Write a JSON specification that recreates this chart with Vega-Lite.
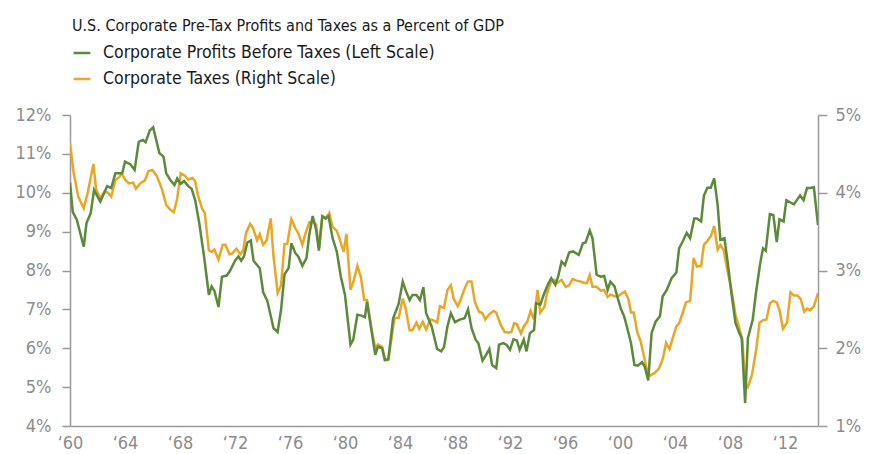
{
  "$schema": "https://vega.github.io/schema/vega-lite/v6.json",
  "width": 748,
  "height": 311,
  "autosize": {"type": "none"},
  "padding": {"left": 70, "top": 115, "right": 59, "bottom": 28},
  "background": "white",
  "config": {
    "view": {"stroke": null},
    "font": "Liberation Sans Narrow, DejaVu Sans Condensed, sans-serif"
  },
  "datasets": {
    "profits": [
      {"series": "Corporate Profits Before Taxes (Left Scale)", "year": 1960.0, "value": 10.26},
      {"series": "Corporate Profits Before Taxes (Left Scale)", "year": 1960.2, "value": 9.51},
      {"series": "Corporate Profits Before Taxes (Left Scale)", "year": 1960.5, "value": 9.30},
      {"series": "Corporate Profits Before Taxes (Left Scale)", "year": 1961.0, "value": 8.61},
      {"series": "Corporate Profits Before Taxes (Left Scale)", "year": 1961.2, "value": 9.22},
      {"series": "Corporate Profits Before Taxes (Left Scale)", "year": 1961.5, "value": 9.47},
      {"series": "Corporate Profits Before Taxes (Left Scale)", "year": 1961.75, "value": 10.07},
      {"series": "Corporate Profits Before Taxes (Left Scale)", "year": 1962.2, "value": 9.77},
      {"series": "Corporate Profits Before Taxes (Left Scale)", "year": 1962.7, "value": 10.17},
      {"series": "Corporate Profits Before Taxes (Left Scale)", "year": 1963.0, "value": 10.12},
      {"series": "Corporate Profits Before Taxes (Left Scale)", "year": 1963.3, "value": 10.50},
      {"series": "Corporate Profits Before Taxes (Left Scale)", "year": 1963.8, "value": 10.50},
      {"series": "Corporate Profits Before Taxes (Left Scale)", "year": 1964.0, "value": 10.80},
      {"series": "Corporate Profits Before Taxes (Left Scale)", "year": 1964.4, "value": 10.73},
      {"series": "Corporate Profits Before Taxes (Left Scale)", "year": 1964.7, "value": 10.59},
      {"series": "Corporate Profits Before Taxes (Left Scale)", "year": 1965.0, "value": 11.31},
      {"series": "Corporate Profits Before Taxes (Left Scale)", "year": 1965.3, "value": 11.36},
      {"series": "Corporate Profits Before Taxes (Left Scale)", "year": 1965.5, "value": 11.30},
      {"series": "Corporate Profits Before Taxes (Left Scale)", "year": 1965.8, "value": 11.60},
      {"series": "Corporate Profits Before Taxes (Left Scale)", "year": 1966.05, "value": 11.68},
      {"series": "Corporate Profits Before Taxes (Left Scale)", "year": 1966.5, "value": 11.02},
      {"series": "Corporate Profits Before Taxes (Left Scale)", "year": 1966.8, "value": 10.93},
      {"series": "Corporate Profits Before Taxes (Left Scale)", "year": 1967.0, "value": 10.50},
      {"series": "Corporate Profits Before Taxes (Left Scale)", "year": 1967.3, "value": 10.33},
      {"series": "Corporate Profits Before Taxes (Left Scale)", "year": 1967.6, "value": 10.20},
      {"series": "Corporate Profits Before Taxes (Left Scale)", "year": 1967.8, "value": 10.37},
      {"series": "Corporate Profits Before Taxes (Left Scale)", "year": 1968.05, "value": 10.23},
      {"series": "Corporate Profits Before Taxes (Left Scale)", "year": 1968.3, "value": 10.30},
      {"series": "Corporate Profits Before Taxes (Left Scale)", "year": 1968.6, "value": 10.17},
      {"series": "Corporate Profits Before Taxes (Left Scale)", "year": 1968.85, "value": 10.10},
      {"series": "Corporate Profits Before Taxes (Left Scale)", "year": 1969.1, "value": 9.81},
      {"series": "Corporate Profits Before Taxes (Left Scale)", "year": 1969.4, "value": 9.22},
      {"series": "Corporate Profits Before Taxes (Left Scale)", "year": 1969.75, "value": 8.36},
      {"series": "Corporate Profits Before Taxes (Left Scale)", "year": 1970.1, "value": 7.37},
      {"series": "Corporate Profits Before Taxes (Left Scale)", "year": 1970.3, "value": 7.59},
      {"series": "Corporate Profits Before Taxes (Left Scale)", "year": 1970.5, "value": 7.48},
      {"series": "Corporate Profits Before Taxes (Left Scale)", "year": 1970.8, "value": 7.06},
      {"series": "Corporate Profits Before Taxes (Left Scale)", "year": 1971.05, "value": 7.84},
      {"series": "Corporate Profits Before Taxes (Left Scale)", "year": 1971.4, "value": 7.87},
      {"series": "Corporate Profits Before Taxes (Left Scale)", "year": 1971.65, "value": 8.0},
      {"series": "Corporate Profits Before Taxes (Left Scale)", "year": 1972.0, "value": 8.25},
      {"series": "Corporate Profits Before Taxes (Left Scale)", "year": 1972.25, "value": 8.36},
      {"series": "Corporate Profits Before Taxes (Left Scale)", "year": 1972.45, "value": 8.25},
      {"series": "Corporate Profits Before Taxes (Left Scale)", "year": 1972.65, "value": 8.36},
      {"series": "Corporate Profits Before Taxes (Left Scale)", "year": 1972.9, "value": 8.72},
      {"series": "Corporate Profits Before Taxes (Left Scale)", "year": 1973.15, "value": 8.77},
      {"series": "Corporate Profits Before Taxes (Left Scale)", "year": 1973.35, "value": 8.25},
      {"series": "Corporate Profits Before Taxes (Left Scale)", "year": 1973.8, "value": 8.06},
      {"series": "Corporate Profits Before Taxes (Left Scale)", "year": 1974.05, "value": 7.44},
      {"series": "Corporate Profits Before Taxes (Left Scale)", "year": 1974.35, "value": 7.22},
      {"series": "Corporate Profits Before Taxes (Left Scale)", "year": 1974.8, "value": 6.52},
      {"series": "Corporate Profits Before Taxes (Left Scale)", "year": 1975.1, "value": 6.42},
      {"series": "Corporate Profits Before Taxes (Left Scale)", "year": 1975.35, "value": 6.99},
      {"series": "Corporate Profits Before Taxes (Left Scale)", "year": 1975.6, "value": 7.90},
      {"series": "Corporate Profits Before Taxes (Left Scale)", "year": 1975.9, "value": 8.06},
      {"series": "Corporate Profits Before Taxes (Left Scale)", "year": 1976.1, "value": 8.70},
      {"series": "Corporate Profits Before Taxes (Left Scale)", "year": 1976.4, "value": 8.44},
      {"series": "Corporate Profits Before Taxes (Left Scale)", "year": 1976.6, "value": 8.36},
      {"series": "Corporate Profits Before Taxes (Left Scale)", "year": 1976.9, "value": 8.12},
      {"series": "Corporate Profits Before Taxes (Left Scale)", "year": 1977.2, "value": 8.32},
      {"series": "Corporate Profits Before Taxes (Left Scale)", "year": 1977.4, "value": 8.92},
      {"series": "Corporate Profits Before Taxes (Left Scale)", "year": 1977.65, "value": 9.40},
      {"series": "Corporate Profits Before Taxes (Left Scale)", "year": 1977.9, "value": 9.04},
      {"series": "Corporate Profits Before Taxes (Left Scale)", "year": 1978.1, "value": 8.51},
      {"series": "Corporate Profits Before Taxes (Left Scale)", "year": 1978.35, "value": 9.39},
      {"series": "Corporate Profits Before Taxes (Left Scale)", "year": 1978.6, "value": 9.34},
      {"series": "Corporate Profits Before Taxes (Left Scale)", "year": 1978.8, "value": 9.40},
      {"series": "Corporate Profits Before Taxes (Left Scale)", "year": 1979.1, "value": 8.83},
      {"series": "Corporate Profits Before Taxes (Left Scale)", "year": 1979.4, "value": 8.49},
      {"series": "Corporate Profits Before Taxes (Left Scale)", "year": 1979.7, "value": 7.84},
      {"series": "Corporate Profits Before Taxes (Left Scale)", "year": 1980.0, "value": 7.37},
      {"series": "Corporate Profits Before Taxes (Left Scale)", "year": 1980.4, "value": 6.09},
      {"series": "Corporate Profits Before Taxes (Left Scale)", "year": 1980.6, "value": 6.22},
      {"series": "Corporate Profits Before Taxes (Left Scale)", "year": 1980.9, "value": 6.86},
      {"series": "Corporate Profits Before Taxes (Left Scale)", "year": 1981.2, "value": 6.84},
      {"series": "Corporate Profits Before Taxes (Left Scale)", "year": 1981.45, "value": 6.80},
      {"series": "Corporate Profits Before Taxes (Left Scale)", "year": 1981.6, "value": 7.20},
      {"series": "Corporate Profits Before Taxes (Left Scale)", "year": 1982.2, "value": 5.83},
      {"series": "Corporate Profits Before Taxes (Left Scale)", "year": 1982.4, "value": 6.04},
      {"series": "Corporate Profits Before Taxes (Left Scale)", "year": 1982.7, "value": 6.00},
      {"series": "Corporate Profits Before Taxes (Left Scale)", "year": 1982.9, "value": 5.70},
      {"series": "Corporate Profits Before Taxes (Left Scale)", "year": 1983.15, "value": 5.72},
      {"series": "Corporate Profits Before Taxes (Left Scale)", "year": 1983.5, "value": 6.77},
      {"series": "Corporate Profits Before Taxes (Left Scale)", "year": 1983.9, "value": 7.14},
      {"series": "Corporate Profits Before Taxes (Left Scale)", "year": 1984.2, "value": 7.71},
      {"series": "Corporate Profits Before Taxes (Left Scale)", "year": 1984.4, "value": 7.50},
      {"series": "Corporate Profits Before Taxes (Left Scale)", "year": 1984.7, "value": 7.24},
      {"series": "Corporate Profits Before Taxes (Left Scale)", "year": 1984.9, "value": 7.37},
      {"series": "Corporate Profits Before Taxes (Left Scale)", "year": 1985.2, "value": 7.37},
      {"series": "Corporate Profits Before Taxes (Left Scale)", "year": 1985.45, "value": 7.24},
      {"series": "Corporate Profits Before Taxes (Left Scale)", "year": 1985.7, "value": 7.57},
      {"series": "Corporate Profits Before Taxes (Left Scale)", "year": 1985.9, "value": 6.90},
      {"series": "Corporate Profits Before Taxes (Left Scale)", "year": 1986.3, "value": 6.56},
      {"series": "Corporate Profits Before Taxes (Left Scale)", "year": 1986.7, "value": 5.98},
      {"series": "Corporate Profits Before Taxes (Left Scale)", "year": 1987.0, "value": 5.92},
      {"series": "Corporate Profits Before Taxes (Left Scale)", "year": 1987.2, "value": 6.03},
      {"series": "Corporate Profits Before Taxes (Left Scale)", "year": 1987.45, "value": 6.56},
      {"series": "Corporate Profits Before Taxes (Left Scale)", "year": 1987.7, "value": 6.90},
      {"series": "Corporate Profits Before Taxes (Left Scale)", "year": 1988.0, "value": 6.67},
      {"series": "Corporate Profits Before Taxes (Left Scale)", "year": 1988.3, "value": 6.73},
      {"series": "Corporate Profits Before Taxes (Left Scale)", "year": 1988.7, "value": 6.77},
      {"series": "Corporate Profits Before Taxes (Left Scale)", "year": 1988.95, "value": 7.00},
      {"series": "Corporate Profits Before Taxes (Left Scale)", "year": 1989.2, "value": 6.52},
      {"series": "Corporate Profits Before Taxes (Left Scale)", "year": 1989.5, "value": 6.22},
      {"series": "Corporate Profits Before Taxes (Left Scale)", "year": 1989.7, "value": 6.13},
      {"series": "Corporate Profits Before Taxes (Left Scale)", "year": 1990.0, "value": 5.68},
      {"series": "Corporate Profits Before Taxes (Left Scale)", "year": 1990.2, "value": 5.79},
      {"series": "Corporate Profits Before Taxes (Left Scale)", "year": 1990.5, "value": 5.98},
      {"series": "Corporate Profits Before Taxes (Left Scale)", "year": 1990.7, "value": 5.57},
      {"series": "Corporate Profits Before Taxes (Left Scale)", "year": 1991.0, "value": 5.49},
      {"series": "Corporate Profits Before Taxes (Left Scale)", "year": 1991.2, "value": 6.09},
      {"series": "Corporate Profits Before Taxes (Left Scale)", "year": 1991.5, "value": 6.13},
      {"series": "Corporate Profits Before Taxes (Left Scale)", "year": 1991.75, "value": 6.09},
      {"series": "Corporate Profits Before Taxes (Left Scale)", "year": 1992.0, "value": 5.96},
      {"series": "Corporate Profits Before Taxes (Left Scale)", "year": 1992.25, "value": 6.23},
      {"series": "Corporate Profits Before Taxes (Left Scale)", "year": 1992.5, "value": 6.20},
      {"series": "Corporate Profits Before Taxes (Left Scale)", "year": 1992.7, "value": 5.96},
      {"series": "Corporate Profits Before Taxes (Left Scale)", "year": 1993.0, "value": 6.22},
      {"series": "Corporate Profits Before Taxes (Left Scale)", "year": 1993.2, "value": 5.92},
      {"series": "Corporate Profits Before Taxes (Left Scale)", "year": 1993.45, "value": 6.39},
      {"series": "Corporate Profits Before Taxes (Left Scale)", "year": 1993.75, "value": 6.47},
      {"series": "Corporate Profits Before Taxes (Left Scale)", "year": 1993.9, "value": 7.16},
      {"series": "Corporate Profits Before Taxes (Left Scale)", "year": 1994.2, "value": 7.12},
      {"series": "Corporate Profits Before Taxes (Left Scale)", "year": 1994.5, "value": 7.42},
      {"series": "Corporate Profits Before Taxes (Left Scale)", "year": 1994.8, "value": 7.67},
      {"series": "Corporate Profits Before Taxes (Left Scale)", "year": 1995.0, "value": 7.80},
      {"series": "Corporate Profits Before Taxes (Left Scale)", "year": 1995.3, "value": 7.63},
      {"series": "Corporate Profits Before Taxes (Left Scale)", "year": 1995.5, "value": 7.84},
      {"series": "Corporate Profits Before Taxes (Left Scale)", "year": 1995.75, "value": 8.23},
      {"series": "Corporate Profits Before Taxes (Left Scale)", "year": 1996.0, "value": 8.14},
      {"series": "Corporate Profits Before Taxes (Left Scale)", "year": 1996.3, "value": 8.46},
      {"series": "Corporate Profits Before Taxes (Left Scale)", "year": 1996.6, "value": 8.49},
      {"series": "Corporate Profits Before Taxes (Left Scale)", "year": 1997.0, "value": 8.40},
      {"series": "Corporate Profits Before Taxes (Left Scale)", "year": 1997.3, "value": 8.70},
      {"series": "Corporate Profits Before Taxes (Left Scale)", "year": 1997.5, "value": 8.72},
      {"series": "Corporate Profits Before Taxes (Left Scale)", "year": 1997.8, "value": 9.03},
      {"series": "Corporate Profits Before Taxes (Left Scale)", "year": 1998.0, "value": 8.83},
      {"series": "Corporate Profits Before Taxes (Left Scale)", "year": 1998.3, "value": 7.89},
      {"series": "Corporate Profits Before Taxes (Left Scale)", "year": 1998.6, "value": 7.84},
      {"series": "Corporate Profits Before Taxes (Left Scale)", "year": 1998.85, "value": 7.86},
      {"series": "Corporate Profits Before Taxes (Left Scale)", "year": 1999.1, "value": 7.50},
      {"series": "Corporate Profits Before Taxes (Left Scale)", "year": 1999.3, "value": 7.71},
      {"series": "Corporate Profits Before Taxes (Left Scale)", "year": 1999.6, "value": 7.59},
      {"series": "Corporate Profits Before Taxes (Left Scale)", "year": 1999.8, "value": 7.33},
      {"series": "Corporate Profits Before Taxes (Left Scale)", "year": 2000.05, "value": 7.03},
      {"series": "Corporate Profits Before Taxes (Left Scale)", "year": 2000.3, "value": 6.82},
      {"series": "Corporate Profits Before Taxes (Left Scale)", "year": 2000.5, "value": 6.56},
      {"series": "Corporate Profits Before Taxes (Left Scale)", "year": 2000.8, "value": 6.13},
      {"series": "Corporate Profits Before Taxes (Left Scale)", "year": 2001.05, "value": 5.57},
      {"series": "Corporate Profits Before Taxes (Left Scale)", "year": 2001.3, "value": 5.55},
      {"series": "Corporate Profits Before Taxes (Left Scale)", "year": 2001.6, "value": 5.64},
      {"series": "Corporate Profits Before Taxes (Left Scale)", "year": 2001.8, "value": 5.53},
      {"series": "Corporate Profits Before Taxes (Left Scale)", "year": 2002.05, "value": 5.17},
      {"series": "Corporate Profits Before Taxes (Left Scale)", "year": 2002.3, "value": 6.39},
      {"series": "Corporate Profits Before Taxes (Left Scale)", "year": 2002.6, "value": 6.69},
      {"series": "Corporate Profits Before Taxes (Left Scale)", "year": 2002.9, "value": 6.82},
      {"series": "Corporate Profits Before Taxes (Left Scale)", "year": 2003.1, "value": 7.33},
      {"series": "Corporate Profits Before Taxes (Left Scale)", "year": 2003.4, "value": 7.50},
      {"series": "Corporate Profits Before Taxes (Left Scale)", "year": 2003.75, "value": 7.80},
      {"series": "Corporate Profits Before Taxes (Left Scale)", "year": 2004.1, "value": 7.95},
      {"series": "Corporate Profits Before Taxes (Left Scale)", "year": 2004.3, "value": 8.57},
      {"series": "Corporate Profits Before Taxes (Left Scale)", "year": 2004.55, "value": 8.74},
      {"series": "Corporate Profits Before Taxes (Left Scale)", "year": 2004.85, "value": 8.97},
      {"series": "Corporate Profits Before Taxes (Left Scale)", "year": 2005.1, "value": 8.83},
      {"series": "Corporate Profits Before Taxes (Left Scale)", "year": 2005.4, "value": 9.34},
      {"series": "Corporate Profits Before Taxes (Left Scale)", "year": 2005.6, "value": 9.34},
      {"series": "Corporate Profits Before Taxes (Left Scale)", "year": 2005.9, "value": 9.26},
      {"series": "Corporate Profits Before Taxes (Left Scale)", "year": 2006.1, "value": 9.92},
      {"series": "Corporate Profits Before Taxes (Left Scale)", "year": 2006.35, "value": 10.13},
      {"series": "Corporate Profits Before Taxes (Left Scale)", "year": 2006.6, "value": 10.13},
      {"series": "Corporate Profits Before Taxes (Left Scale)", "year": 2006.85, "value": 10.37},
      {"series": "Corporate Profits Before Taxes (Left Scale)", "year": 2007.1, "value": 9.69},
      {"series": "Corporate Profits Before Taxes (Left Scale)", "year": 2007.3, "value": 8.79},
      {"series": "Corporate Profits Before Taxes (Left Scale)", "year": 2007.6, "value": 8.83},
      {"series": "Corporate Profits Before Taxes (Left Scale)", "year": 2007.9, "value": 8.02},
      {"series": "Corporate Profits Before Taxes (Left Scale)", "year": 2008.1, "value": 7.42},
      {"series": "Corporate Profits Before Taxes (Left Scale)", "year": 2008.4, "value": 6.65},
      {"series": "Corporate Profits Before Taxes (Left Scale)", "year": 2008.7, "value": 6.37},
      {"series": "Corporate Profits Before Taxes (Left Scale)", "year": 2008.85, "value": 6.26},
      {"series": "Corporate Profits Before Taxes (Left Scale)", "year": 2009.1, "value": 4.59},
      {"series": "Corporate Profits Before Taxes (Left Scale)", "year": 2009.3, "value": 6.26},
      {"series": "Corporate Profits Before Taxes (Left Scale)", "year": 2009.65, "value": 6.73},
      {"series": "Corporate Profits Before Taxes (Left Scale)", "year": 2009.9, "value": 7.46},
      {"series": "Corporate Profits Before Taxes (Left Scale)", "year": 2010.2, "value": 8.19},
      {"series": "Corporate Profits Before Taxes (Left Scale)", "year": 2010.4, "value": 8.57},
      {"series": "Corporate Profits Before Taxes (Left Scale)", "year": 2010.6, "value": 8.51},
      {"series": "Corporate Profits Before Taxes (Left Scale)", "year": 2010.9, "value": 9.45},
      {"series": "Corporate Profits Before Taxes (Left Scale)", "year": 2011.15, "value": 9.43},
      {"series": "Corporate Profits Before Taxes (Left Scale)", "year": 2011.4, "value": 8.73},
      {"series": "Corporate Profits Before Taxes (Left Scale)", "year": 2011.6, "value": 9.32},
      {"series": "Corporate Profits Before Taxes (Left Scale)", "year": 2011.9, "value": 9.26},
      {"series": "Corporate Profits Before Taxes (Left Scale)", "year": 2012.1, "value": 9.81},
      {"series": "Corporate Profits Before Taxes (Left Scale)", "year": 2012.4, "value": 9.75},
      {"series": "Corporate Profits Before Taxes (Left Scale)", "year": 2012.65, "value": 9.70},
      {"series": "Corporate Profits Before Taxes (Left Scale)", "year": 2012.9, "value": 9.83},
      {"series": "Corporate Profits Before Taxes (Left Scale)", "year": 2013.1, "value": 9.93},
      {"series": "Corporate Profits Before Taxes (Left Scale)", "year": 2013.35, "value": 9.81},
      {"series": "Corporate Profits Before Taxes (Left Scale)", "year": 2013.6, "value": 10.12},
      {"series": "Corporate Profits Before Taxes (Left Scale)", "year": 2013.85, "value": 10.12},
      {"series": "Corporate Profits Before Taxes (Left Scale)", "year": 2014.1, "value": 10.14},
      {"series": "Corporate Profits Before Taxes (Left Scale)", "year": 2014.4, "value": 9.17}
    ],
    "taxes": [
      {"series": "Corporate Taxes (Right Scale)", "year": 1960.0, "value": 4.64},
      {"series": "Corporate Taxes (Right Scale)", "year": 1960.25, "value": 4.27},
      {"series": "Corporate Taxes (Right Scale)", "year": 1960.6, "value": 3.95},
      {"series": "Corporate Taxes (Right Scale)", "year": 1961.0, "value": 3.80},
      {"series": "Corporate Taxes (Right Scale)", "year": 1961.3, "value": 4.01},
      {"series": "Corporate Taxes (Right Scale)", "year": 1961.7, "value": 4.37},
      {"series": "Corporate Taxes (Right Scale)", "year": 1961.9, "value": 4.04},
      {"series": "Corporate Taxes (Right Scale)", "year": 1962.2, "value": 3.93},
      {"series": "Corporate Taxes (Right Scale)", "year": 1962.5, "value": 4.01},
      {"series": "Corporate Taxes (Right Scale)", "year": 1962.75, "value": 4.00},
      {"series": "Corporate Taxes (Right Scale)", "year": 1963.0, "value": 3.95},
      {"series": "Corporate Taxes (Right Scale)", "year": 1963.3, "value": 4.16},
      {"series": "Corporate Taxes (Right Scale)", "year": 1963.5, "value": 4.19},
      {"series": "Corporate Taxes (Right Scale)", "year": 1963.75, "value": 4.24},
      {"series": "Corporate Taxes (Right Scale)", "year": 1964.05, "value": 4.16},
      {"series": "Corporate Taxes (Right Scale)", "year": 1964.3, "value": 4.12},
      {"series": "Corporate Taxes (Right Scale)", "year": 1964.6, "value": 4.13},
      {"series": "Corporate Taxes (Right Scale)", "year": 1964.8, "value": 4.05},
      {"series": "Corporate Taxes (Right Scale)", "year": 1965.1, "value": 4.12},
      {"series": "Corporate Taxes (Right Scale)", "year": 1965.45, "value": 4.16},
      {"series": "Corporate Taxes (Right Scale)", "year": 1965.7, "value": 4.28},
      {"series": "Corporate Taxes (Right Scale)", "year": 1966.0, "value": 4.29},
      {"series": "Corporate Taxes (Right Scale)", "year": 1966.3, "value": 4.22},
      {"series": "Corporate Taxes (Right Scale)", "year": 1966.7, "value": 4.04},
      {"series": "Corporate Taxes (Right Scale)", "year": 1967.0, "value": 3.84},
      {"series": "Corporate Taxes (Right Scale)", "year": 1967.3, "value": 3.78},
      {"series": "Corporate Taxes (Right Scale)", "year": 1967.55, "value": 3.75},
      {"series": "Corporate Taxes (Right Scale)", "year": 1967.8, "value": 3.93},
      {"series": "Corporate Taxes (Right Scale)", "year": 1968.05, "value": 4.25},
      {"series": "Corporate Taxes (Right Scale)", "year": 1968.35, "value": 4.22},
      {"series": "Corporate Taxes (Right Scale)", "year": 1968.6, "value": 4.17},
      {"series": "Corporate Taxes (Right Scale)", "year": 1968.9, "value": 4.19},
      {"series": "Corporate Taxes (Right Scale)", "year": 1969.1, "value": 4.15},
      {"series": "Corporate Taxes (Right Scale)", "year": 1969.3, "value": 3.97},
      {"series": "Corporate Taxes (Right Scale)", "year": 1969.6, "value": 3.80},
      {"series": "Corporate Taxes (Right Scale)", "year": 1969.8, "value": 3.74},
      {"series": "Corporate Taxes (Right Scale)", "year": 1970.1, "value": 3.26},
      {"series": "Corporate Taxes (Right Scale)", "year": 1970.3, "value": 3.24},
      {"series": "Corporate Taxes (Right Scale)", "year": 1970.5, "value": 3.27},
      {"series": "Corporate Taxes (Right Scale)", "year": 1970.8, "value": 3.14},
      {"series": "Corporate Taxes (Right Scale)", "year": 1971.1, "value": 3.33},
      {"series": "Corporate Taxes (Right Scale)", "year": 1971.3, "value": 3.33},
      {"series": "Corporate Taxes (Right Scale)", "year": 1971.6, "value": 3.21},
      {"series": "Corporate Taxes (Right Scale)", "year": 1971.8, "value": 3.22},
      {"series": "Corporate Taxes (Right Scale)", "year": 1972.1, "value": 3.28},
      {"series": "Corporate Taxes (Right Scale)", "year": 1972.4, "value": 3.21},
      {"series": "Corporate Taxes (Right Scale)", "year": 1972.6, "value": 3.26},
      {"series": "Corporate Taxes (Right Scale)", "year": 1972.8, "value": 3.48},
      {"series": "Corporate Taxes (Right Scale)", "year": 1973.1, "value": 3.60},
      {"series": "Corporate Taxes (Right Scale)", "year": 1973.3, "value": 3.55},
      {"series": "Corporate Taxes (Right Scale)", "year": 1973.6, "value": 3.39},
      {"series": "Corporate Taxes (Right Scale)", "year": 1973.8, "value": 3.47},
      {"series": "Corporate Taxes (Right Scale)", "year": 1974.05, "value": 3.33},
      {"series": "Corporate Taxes (Right Scale)", "year": 1974.3, "value": 3.39},
      {"series": "Corporate Taxes (Right Scale)", "year": 1974.6, "value": 3.67},
      {"series": "Corporate Taxes (Right Scale)", "year": 1974.8, "value": 3.18},
      {"series": "Corporate Taxes (Right Scale)", "year": 1975.1, "value": 2.71},
      {"series": "Corporate Taxes (Right Scale)", "year": 1975.35, "value": 2.81},
      {"series": "Corporate Taxes (Right Scale)", "year": 1975.6, "value": 3.34},
      {"series": "Corporate Taxes (Right Scale)", "year": 1975.8, "value": 3.34},
      {"series": "Corporate Taxes (Right Scale)", "year": 1976.1, "value": 3.66},
      {"series": "Corporate Taxes (Right Scale)", "year": 1976.4, "value": 3.54},
      {"series": "Corporate Taxes (Right Scale)", "year": 1976.6, "value": 3.48},
      {"series": "Corporate Taxes (Right Scale)", "year": 1976.9, "value": 3.33},
      {"series": "Corporate Taxes (Right Scale)", "year": 1977.1, "value": 3.46},
      {"series": "Corporate Taxes (Right Scale)", "year": 1977.4, "value": 3.62},
      {"series": "Corporate Taxes (Right Scale)", "year": 1977.7, "value": 3.62},
      {"series": "Corporate Taxes (Right Scale)", "year": 1977.9, "value": 3.59},
      {"series": "Corporate Taxes (Right Scale)", "year": 1978.1, "value": 3.29},
      {"series": "Corporate Taxes (Right Scale)", "year": 1978.35, "value": 3.70},
      {"series": "Corporate Taxes (Right Scale)", "year": 1978.6, "value": 3.67},
      {"series": "Corporate Taxes (Right Scale)", "year": 1978.85, "value": 3.74},
      {"series": "Corporate Taxes (Right Scale)", "year": 1979.1, "value": 3.56},
      {"series": "Corporate Taxes (Right Scale)", "year": 1979.4, "value": 3.51},
      {"series": "Corporate Taxes (Right Scale)", "year": 1979.6, "value": 3.41},
      {"series": "Corporate Taxes (Right Scale)", "year": 1979.9, "value": 3.24},
      {"series": "Corporate Taxes (Right Scale)", "year": 1980.1, "value": 3.47},
      {"series": "Corporate Taxes (Right Scale)", "year": 1980.4, "value": 2.75},
      {"series": "Corporate Taxes (Right Scale)", "year": 1980.65, "value": 2.88},
      {"series": "Corporate Taxes (Right Scale)", "year": 1980.9, "value": 3.06},
      {"series": "Corporate Taxes (Right Scale)", "year": 1981.15, "value": 2.92},
      {"series": "Corporate Taxes (Right Scale)", "year": 1981.4, "value": 2.62},
      {"series": "Corporate Taxes (Right Scale)", "year": 1981.6, "value": 2.62},
      {"series": "Corporate Taxes (Right Scale)", "year": 1981.9, "value": 2.28},
      {"series": "Corporate Taxes (Right Scale)", "year": 1982.2, "value": 2.00},
      {"series": "Corporate Taxes (Right Scale)", "year": 1982.4, "value": 2.05},
      {"series": "Corporate Taxes (Right Scale)", "year": 1982.7, "value": 2.02},
      {"series": "Corporate Taxes (Right Scale)", "year": 1982.9, "value": 1.85},
      {"series": "Corporate Taxes (Right Scale)", "year": 1983.15, "value": 1.85},
      {"series": "Corporate Taxes (Right Scale)", "year": 1983.4, "value": 2.15},
      {"series": "Corporate Taxes (Right Scale)", "year": 1983.6, "value": 2.39},
      {"series": "Corporate Taxes (Right Scale)", "year": 1983.9, "value": 2.39},
      {"series": "Corporate Taxes (Right Scale)", "year": 1984.2, "value": 2.64},
      {"series": "Corporate Taxes (Right Scale)", "year": 1984.4, "value": 2.52},
      {"series": "Corporate Taxes (Right Scale)", "year": 1984.7, "value": 2.23},
      {"series": "Corporate Taxes (Right Scale)", "year": 1984.9, "value": 2.23},
      {"series": "Corporate Taxes (Right Scale)", "year": 1985.2, "value": 2.33},
      {"series": "Corporate Taxes (Right Scale)", "year": 1985.4, "value": 2.25},
      {"series": "Corporate Taxes (Right Scale)", "year": 1985.65, "value": 2.34},
      {"series": "Corporate Taxes (Right Scale)", "year": 1985.9, "value": 2.24},
      {"series": "Corporate Taxes (Right Scale)", "year": 1986.2, "value": 2.37},
      {"series": "Corporate Taxes (Right Scale)", "year": 1986.4, "value": 2.36},
      {"series": "Corporate Taxes (Right Scale)", "year": 1986.7, "value": 2.33},
      {"series": "Corporate Taxes (Right Scale)", "year": 1986.9, "value": 2.54},
      {"series": "Corporate Taxes (Right Scale)", "year": 1987.2, "value": 2.52},
      {"series": "Corporate Taxes (Right Scale)", "year": 1987.45, "value": 2.75},
      {"series": "Corporate Taxes (Right Scale)", "year": 1987.7, "value": 2.81},
      {"series": "Corporate Taxes (Right Scale)", "year": 1987.9, "value": 2.64},
      {"series": "Corporate Taxes (Right Scale)", "year": 1988.2, "value": 2.54},
      {"series": "Corporate Taxes (Right Scale)", "year": 1988.4, "value": 2.62},
      {"series": "Corporate Taxes (Right Scale)", "year": 1988.7, "value": 2.77},
      {"series": "Corporate Taxes (Right Scale)", "year": 1988.95, "value": 2.86},
      {"series": "Corporate Taxes (Right Scale)", "year": 1989.2, "value": 2.86},
      {"series": "Corporate Taxes (Right Scale)", "year": 1989.45, "value": 2.59},
      {"series": "Corporate Taxes (Right Scale)", "year": 1989.75, "value": 2.47},
      {"series": "Corporate Taxes (Right Scale)", "year": 1990.0, "value": 2.45},
      {"series": "Corporate Taxes (Right Scale)", "year": 1990.2, "value": 2.37},
      {"series": "Corporate Taxes (Right Scale)", "year": 1990.5, "value": 2.44},
      {"series": "Corporate Taxes (Right Scale)", "year": 1990.8, "value": 2.48},
      {"series": "Corporate Taxes (Right Scale)", "year": 1991.0, "value": 2.46},
      {"series": "Corporate Taxes (Right Scale)", "year": 1991.3, "value": 2.31},
      {"series": "Corporate Taxes (Right Scale)", "year": 1991.6, "value": 2.21},
      {"series": "Corporate Taxes (Right Scale)", "year": 1991.9, "value": 2.20},
      {"series": "Corporate Taxes (Right Scale)", "year": 1992.1, "value": 2.21},
      {"series": "Corporate Taxes (Right Scale)", "year": 1992.3, "value": 2.32},
      {"series": "Corporate Taxes (Right Scale)", "year": 1992.5, "value": 2.31},
      {"series": "Corporate Taxes (Right Scale)", "year": 1992.8, "value": 2.19},
      {"series": "Corporate Taxes (Right Scale)", "year": 1993.0, "value": 2.28},
      {"series": "Corporate Taxes (Right Scale)", "year": 1993.25, "value": 2.34},
      {"series": "Corporate Taxes (Right Scale)", "year": 1993.5, "value": 2.48},
      {"series": "Corporate Taxes (Right Scale)", "year": 1993.75, "value": 2.37},
      {"series": "Corporate Taxes (Right Scale)", "year": 1994.0, "value": 2.75},
      {"series": "Corporate Taxes (Right Scale)", "year": 1994.2, "value": 2.46},
      {"series": "Corporate Taxes (Right Scale)", "year": 1994.5, "value": 2.53},
      {"series": "Corporate Taxes (Right Scale)", "year": 1994.7, "value": 2.71},
      {"series": "Corporate Taxes (Right Scale)", "year": 1995.0, "value": 2.86},
      {"series": "Corporate Taxes (Right Scale)", "year": 1995.2, "value": 2.88},
      {"series": "Corporate Taxes (Right Scale)", "year": 1995.45, "value": 2.84},
      {"series": "Corporate Taxes (Right Scale)", "year": 1995.75, "value": 2.88},
      {"series": "Corporate Taxes (Right Scale)", "year": 1996.05, "value": 2.79},
      {"series": "Corporate Taxes (Right Scale)", "year": 1996.3, "value": 2.81},
      {"series": "Corporate Taxes (Right Scale)", "year": 1996.55, "value": 2.89},
      {"series": "Corporate Taxes (Right Scale)", "year": 1996.85, "value": 2.87},
      {"series": "Corporate Taxes (Right Scale)", "year": 1997.1, "value": 2.86},
      {"series": "Corporate Taxes (Right Scale)", "year": 1997.4, "value": 2.84},
      {"series": "Corporate Taxes (Right Scale)", "year": 1997.6, "value": 2.84},
      {"series": "Corporate Taxes (Right Scale)", "year": 1997.8, "value": 2.94},
      {"series": "Corporate Taxes (Right Scale)", "year": 1998.0, "value": 2.79},
      {"series": "Corporate Taxes (Right Scale)", "year": 1998.3, "value": 2.79},
      {"series": "Corporate Taxes (Right Scale)", "year": 1998.6, "value": 2.74},
      {"series": "Corporate Taxes (Right Scale)", "year": 1998.85, "value": 2.75},
      {"series": "Corporate Taxes (Right Scale)", "year": 1999.1, "value": 2.66},
      {"series": "Corporate Taxes (Right Scale)", "year": 1999.3, "value": 2.69},
      {"series": "Corporate Taxes (Right Scale)", "year": 1999.6, "value": 2.67},
      {"series": "Corporate Taxes (Right Scale)", "year": 1999.8, "value": 2.66},
      {"series": "Corporate Taxes (Right Scale)", "year": 2000.1, "value": 2.70},
      {"series": "Corporate Taxes (Right Scale)", "year": 2000.35, "value": 2.73},
      {"series": "Corporate Taxes (Right Scale)", "year": 2000.6, "value": 2.64},
      {"series": "Corporate Taxes (Right Scale)", "year": 2000.8, "value": 2.46},
      {"series": "Corporate Taxes (Right Scale)", "year": 2001.0, "value": 2.46},
      {"series": "Corporate Taxes (Right Scale)", "year": 2001.25, "value": 2.21},
      {"series": "Corporate Taxes (Right Scale)", "year": 2001.5, "value": 2.09},
      {"series": "Corporate Taxes (Right Scale)", "year": 2001.75, "value": 1.89},
      {"series": "Corporate Taxes (Right Scale)", "year": 2002.0, "value": 1.68},
      {"series": "Corporate Taxes (Right Scale)", "year": 2002.2, "value": 1.65},
      {"series": "Corporate Taxes (Right Scale)", "year": 2002.5, "value": 1.68},
      {"series": "Corporate Taxes (Right Scale)", "year": 2002.8, "value": 1.73},
      {"series": "Corporate Taxes (Right Scale)", "year": 2003.0, "value": 1.81},
      {"series": "Corporate Taxes (Right Scale)", "year": 2003.15, "value": 1.89},
      {"series": "Corporate Taxes (Right Scale)", "year": 2003.35, "value": 2.07},
      {"series": "Corporate Taxes (Right Scale)", "year": 2003.6, "value": 1.99},
      {"series": "Corporate Taxes (Right Scale)", "year": 2003.8, "value": 2.11},
      {"series": "Corporate Taxes (Right Scale)", "year": 2004.1, "value": 2.28},
      {"series": "Corporate Taxes (Right Scale)", "year": 2004.3, "value": 2.32},
      {"series": "Corporate Taxes (Right Scale)", "year": 2004.55, "value": 2.45},
      {"series": "Corporate Taxes (Right Scale)", "year": 2004.8, "value": 2.59},
      {"series": "Corporate Taxes (Right Scale)", "year": 2005.1, "value": 2.61},
      {"series": "Corporate Taxes (Right Scale)", "year": 2005.35, "value": 3.16},
      {"series": "Corporate Taxes (Right Scale)", "year": 2005.6, "value": 3.05},
      {"series": "Corporate Taxes (Right Scale)", "year": 2005.9, "value": 3.06},
      {"series": "Corporate Taxes (Right Scale)", "year": 2006.1, "value": 3.33},
      {"series": "Corporate Taxes (Right Scale)", "year": 2006.35, "value": 3.38},
      {"series": "Corporate Taxes (Right Scale)", "year": 2006.6, "value": 3.44},
      {"series": "Corporate Taxes (Right Scale)", "year": 2006.85, "value": 3.57},
      {"series": "Corporate Taxes (Right Scale)", "year": 2007.1, "value": 3.27},
      {"series": "Corporate Taxes (Right Scale)", "year": 2007.3, "value": 3.33},
      {"series": "Corporate Taxes (Right Scale)", "year": 2007.55, "value": 3.26},
      {"series": "Corporate Taxes (Right Scale)", "year": 2007.8, "value": 3.01},
      {"series": "Corporate Taxes (Right Scale)", "year": 2008.1, "value": 2.76},
      {"series": "Corporate Taxes (Right Scale)", "year": 2008.4, "value": 2.43},
      {"series": "Corporate Taxes (Right Scale)", "year": 2008.65, "value": 2.28},
      {"series": "Corporate Taxes (Right Scale)", "year": 2008.9, "value": 2.11},
      {"series": "Corporate Taxes (Right Scale)", "year": 2009.1, "value": 1.55},
      {"series": "Corporate Taxes (Right Scale)", "year": 2009.3, "value": 1.50},
      {"series": "Corporate Taxes (Right Scale)", "year": 2009.6, "value": 1.66},
      {"series": "Corporate Taxes (Right Scale)", "year": 2009.9, "value": 1.98},
      {"series": "Corporate Taxes (Right Scale)", "year": 2010.15, "value": 2.33},
      {"series": "Corporate Taxes (Right Scale)", "year": 2010.4, "value": 2.36},
      {"series": "Corporate Taxes (Right Scale)", "year": 2010.65, "value": 2.37},
      {"series": "Corporate Taxes (Right Scale)", "year": 2010.9, "value": 2.58},
      {"series": "Corporate Taxes (Right Scale)", "year": 2011.15, "value": 2.61},
      {"series": "Corporate Taxes (Right Scale)", "year": 2011.4, "value": 2.59},
      {"series": "Corporate Taxes (Right Scale)", "year": 2011.6, "value": 2.49},
      {"series": "Corporate Taxes (Right Scale)", "year": 2011.85, "value": 2.25},
      {"series": "Corporate Taxes (Right Scale)", "year": 2012.15, "value": 2.33},
      {"series": "Corporate Taxes (Right Scale)", "year": 2012.4, "value": 2.72},
      {"series": "Corporate Taxes (Right Scale)", "year": 2012.65, "value": 2.68},
      {"series": "Corporate Taxes (Right Scale)", "year": 2012.9, "value": 2.68},
      {"series": "Corporate Taxes (Right Scale)", "year": 2013.15, "value": 2.63},
      {"series": "Corporate Taxes (Right Scale)", "year": 2013.4, "value": 2.47},
      {"series": "Corporate Taxes (Right Scale)", "year": 2013.6, "value": 2.51},
      {"series": "Corporate Taxes (Right Scale)", "year": 2013.85, "value": 2.49},
      {"series": "Corporate Taxes (Right Scale)", "year": 2014.1, "value": 2.54},
      {"series": "Corporate Taxes (Right Scale)", "year": 2014.4, "value": 2.71}
    ]
  },
  "layer": [
    {
      "data": {"name": "taxes"},
      "mark": {"type": "line", "strokeWidth": 2.5, "clip": true},
      "encoding": {
        "x": {
          "field": "year", "type": "quantitative",
          "scale": {"domain": [1960, 2014.4], "nice": false, "zero": false},
          "axis": {
            "values": [1960, 1964, 1968, 1972, 1976, 1980, 1984, 1988, 1992, 1996, 2000, 2004, 2008, 2012],
            "labelExpr": "'‘' + (datum.value % 100 < 10 ? '0' : '') + (datum.value % 100)",
            "ticks": false, "grid": false, "title": null,
            "domainColor": "#9a9a9a", "domainWidth": 1.5,
            "labelColor": "#8c8c8c", "labelFontSize": 18, "labelPadding": 8,
            "labelOverlap": false, "labelFlush": false
          }
        },
        "y": {
          "field": "value", "type": "quantitative",
          "scale": {"domain": [1, 5], "nice": false, "zero": false},
          "axis": {
            "orient": "right", "values": [1, 2, 3, 4, 5],
            "labelExpr": "datum.value + '%'",
            "grid": false, "title": null,
            "domainColor": "#9a9a9a", "domainWidth": 1.5,
            "tickColor": "#9a9a9a", "tickWidth": 1.5, "tickSize": 9,
            "labelColor": "#8c8c8c", "labelFontSize": 18, "labelPadding": 8
          }
        },
        "color": {
          "field": "series", "type": "nominal",
          "scale": {
            "domain": ["Corporate Profits Before Taxes (Left Scale)", "Corporate Taxes (Right Scale)"],
            "range": ["#5b8a3a", "#eaa626"]
          },
          "legend": {
            "orient": "none", "legendX": 2, "legendY": -97,
            "title": "U.S. Corporate Pre-Tax Profits and Taxes as a Percent of GDP",
            "titleFontSize": 16, "titleFontWeight": "normal", "titleColor": "#1a1a1a",
            "titleLimit": 1000, "titlePadding": 9,
            "labelFontSize": 17.5, "labelColor": "#1a1a1a", "labelLimit": 1000,
            "labelOffset": 11, "rowPadding": 7,
            "symbolType": "stroke", "symbolStrokeWidth": 2.5, "symbolSize": 280
          }
        }
      }
    },
    {
      "data": {"name": "profits"},
      "mark": {"type": "line", "strokeWidth": 2.5, "clip": true},
      "encoding": {
        "x": {"field": "year", "type": "quantitative"},
        "y": {
          "field": "value", "type": "quantitative",
          "scale": {"domain": [4, 12], "nice": false, "zero": false},
          "axis": {
            "orient": "left", "values": [4, 5, 6, 7, 8, 9, 10, 11, 12],
            "labelExpr": "datum.value + '%'",
            "grid": false, "title": null,
            "domainColor": "#9a9a9a", "domainWidth": 1.5,
            "tickColor": "#9a9a9a", "tickWidth": 1.5, "tickSize": 8,
            "labelColor": "#8c8c8c", "labelFontSize": 18, "labelPadding": 11
          }
        },
        "color": {"field": "series", "type": "nominal"}
      }
    }
  ],
  "resolve": {"scale": {"y": "independent"}}
}
